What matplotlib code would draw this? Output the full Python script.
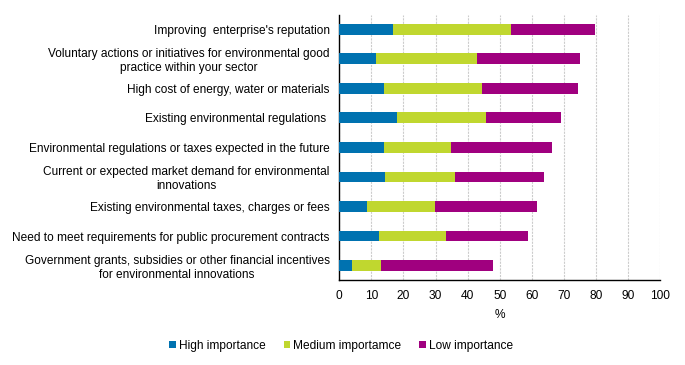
import matplotlib
matplotlib.use("Agg")
import matplotlib.pyplot as plt
from matplotlib.patches import Patch

plt.rcParams['font.family'] = ['Liberation Sans', 'DejaVu Sans']

categories = [
    "Improving  enterprise's reputation",
    "Voluntary actions or initiatives for environmental good\npractice within your sector",
    "High cost of energy, water or materials",
    "Existing environmental regulations ",
    "Environmental regulations or taxes expected in the future",
    "Current or expected market demand for environmental\ninnovations",
    "Existing environmental taxes, charges or fees",
    "Need to meet requirements for public procurement contracts",
    "Government grants, subsidies or other financial incentives\nfor environmental innovations",
]
high = [16.7, 11.4, 13.9, 17.9, 13.9, 14.2, 8.6, 12.4, 3.9]
medium = [36.8, 31.5, 30.5, 27.8, 20.9, 21.8, 21.2, 20.8, 9.0]
low = [26.2, 32.1, 30.0, 23.4, 31.4, 27.7, 31.8, 25.6, 34.9]
series_names = ["High importance", "Medium importamce", "Low importance"]
colors = ["#0072B0", "#C0D72F", "#A0007F"]
xticks = list(range(0, 101, 10))

FS = 8.6

fig = plt.figure(figsize=(6.85, 3.65), dpi=100)
ax = fig.add_axes([0.4953, 0.232, 0.4687, 0.728])

y = list(range(len(categories)))
left = [0.0] * len(categories)
for vals, c in zip([high, medium, low], colors):
    ax.barh(y, vals, left=left, height=0.37, color=c, zorder=3)
    left = [a + b for a, b in zip(left, vals)]

ax.set_ylim(len(categories) - 0.5, -0.5)
ax.set_xlim(0, 100)
ax.set_xticks(xticks)
ax.set_xticklabels([str(t) for t in xticks], fontsize=FS)
ax.set_yticks(y)
ax.set_yticklabels(categories, fontsize=FS, ha='right', multialignment='center',
                   linespacing=1.22)
ax.tick_params(axis='both', length=0)
ax.tick_params(axis='y', pad=7)
ax.tick_params(axis='x', pad=7)
ax.xaxis.grid(True, color='#cccccc', linestyle=(0, (2, 1)), linewidth=0.8, zorder=0)
for s in ['top', 'right']:
    ax.spines[s].set_visible(False)
for s in ['left', 'bottom']:
    ax.spines[s].set_color('black')
    ax.spines[s].set_linewidth(1.0)
ax.set_xlabel('%', fontsize=FS, labelpad=5)

handles = [Patch(facecolor=c, label=n) for c, n in zip(colors, series_names)]
fig.legend(handles=handles, loc='center', bbox_to_anchor=(0.498, 0.052), ncol=3,
           frameon=False, fontsize=FS, handlelength=0.55, handleheight=0.55,
           handletextpad=0.25, columnspacing=1.5)

fig.savefig('out.png', dpi=100)
